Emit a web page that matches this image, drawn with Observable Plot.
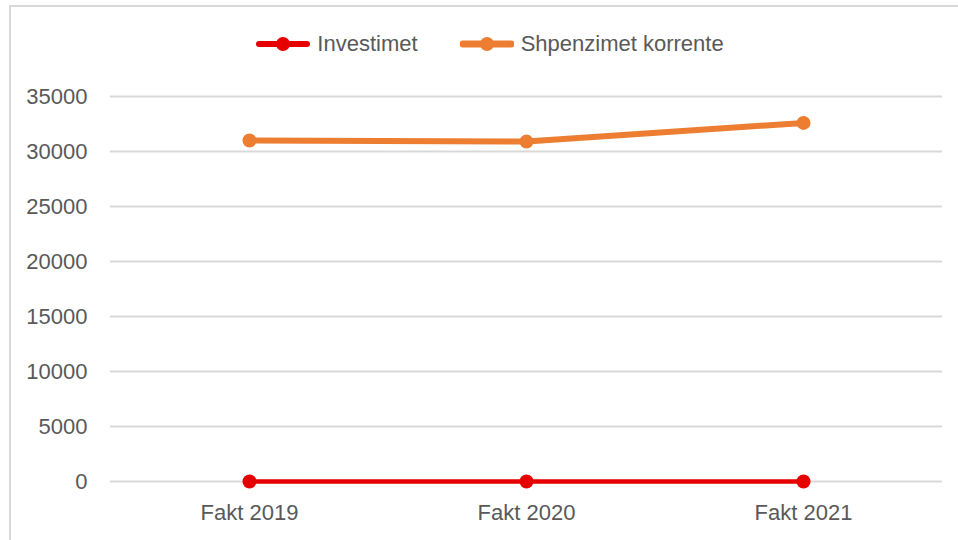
<!DOCTYPE html>
<html>
<head>
<meta charset="utf-8">
<script src="https://cdn.jsdelivr.net/npm/d3@7"></script>
<script src="https://cdn.jsdelivr.net/npm/@observablehq/plot@0.6"></script>
<style>
  html, body { margin: 0; padding: 0; background: #fff; }
  body { width: 958px; height: 540px; position: relative; overflow: hidden; font-family: "Liberation Sans", Arial, sans-serif; }
  #frame { position: absolute; left: 9px; top: 5px; right: -10px; bottom: -10px; border-top: 2px solid #d9d9d9; border-left: 2px solid #d9d9d9; pointer-events: none; }
  #legend { height: 80px; display: flex; justify-content: center; align-items: center; padding-top: 8px; padding-left: 22px; box-sizing: border-box; font-size: 22px; color: #595959; }
  .item { display: flex; align-items: center; }
  .item svg { display: block; }
  .item span { margin-left: 7px; }
  #chart { display: block; }
</style>
</head>
<body>
<div id="legend"></div>
<div id="chart"></div>
<div id="frame"></div>
<script>
const categories = ["Fakt 2019", "Fakt 2020", "Fakt 2021"];
const seriesNames = ["Investimet", "Shpenzimet korrente"];
const seriesColors = ["#e60000", "#ed7d31"];
const investimet = [0, 0, 0];
const shpenzimet = [31000, 30900, 32600];
const yTicks = [0, 5000, 10000, 15000, 20000, 25000, 30000, 35000];

const data = [
  ...categories.map((c, i) => ({cat: c, value: investimet[i], series: seriesNames[0]})),
  ...categories.map((c, i) => ({cat: c, value: shpenzimet[i], series: seriesNames[1]}))
];

const chart = Plot.plot({
  width: 958,
  height: 460,
  marginTop: 16,
  marginBottom: 59,
  marginLeft: 110,
  marginRight: 16,
  style: {fontFamily: "'Liberation Sans', Arial, sans-serif", fontSize: "22px", color: "#595959", background: "transparent"},
  x: {type: "point", domain: categories, padding: 0.5, label: null, tickSize: 0, tickPadding: 23},
  y: {domain: [0, 35000], ticks: yTicks, tickFormat: d => String(d), label: null, tickSize: 0, tickPadding: 23},
  color: {domain: seriesNames, range: seriesColors},
  marks: [
    Plot.gridY(yTicks, {stroke: "#d9d9d9", strokeOpacity: 1, strokeWidth: 2}),
    Plot.axisX({tickSize: 0, tickPadding: 23, fill: "#595959"}),
    Plot.axisY({ticks: yTicks, tickFormat: d => String(d), tickSize: 0, tickPadding: 23, fill: "#595959"}),
    Plot.lineY(data.filter(d => d.series === seriesNames[0]), {x: "cat", y: "value", stroke: seriesColors[0], strokeWidth: 4.5}),
    Plot.lineY(data.filter(d => d.series === seriesNames[1]), {x: "cat", y: "value", stroke: seriesColors[1], strokeWidth: 6}),
    Plot.dot(data, {x: "cat", y: "value", fill: "series", r: 7})
  ]
});
document.getElementById("chart").appendChild(chart);

const legend = document.getElementById("legend");
seriesNames.forEach((name, i) => {
  const item = document.createElement("div");
  item.className = "item";
  if (i > 0) item.style.marginLeft = "42px";
  const w = i === 0 ? 6 : 7;
  item.innerHTML = `<svg width="54" height="18"><line x1="3" y1="9" x2="51" y2="9" stroke="${seriesColors[i]}" stroke-width="${w}" stroke-linecap="round"/><circle cx="27" cy="9" r="7" fill="${seriesColors[i]}"/></svg><span>${name}</span>`;
  legend.appendChild(item);
});
</script>
</body>
</html>
